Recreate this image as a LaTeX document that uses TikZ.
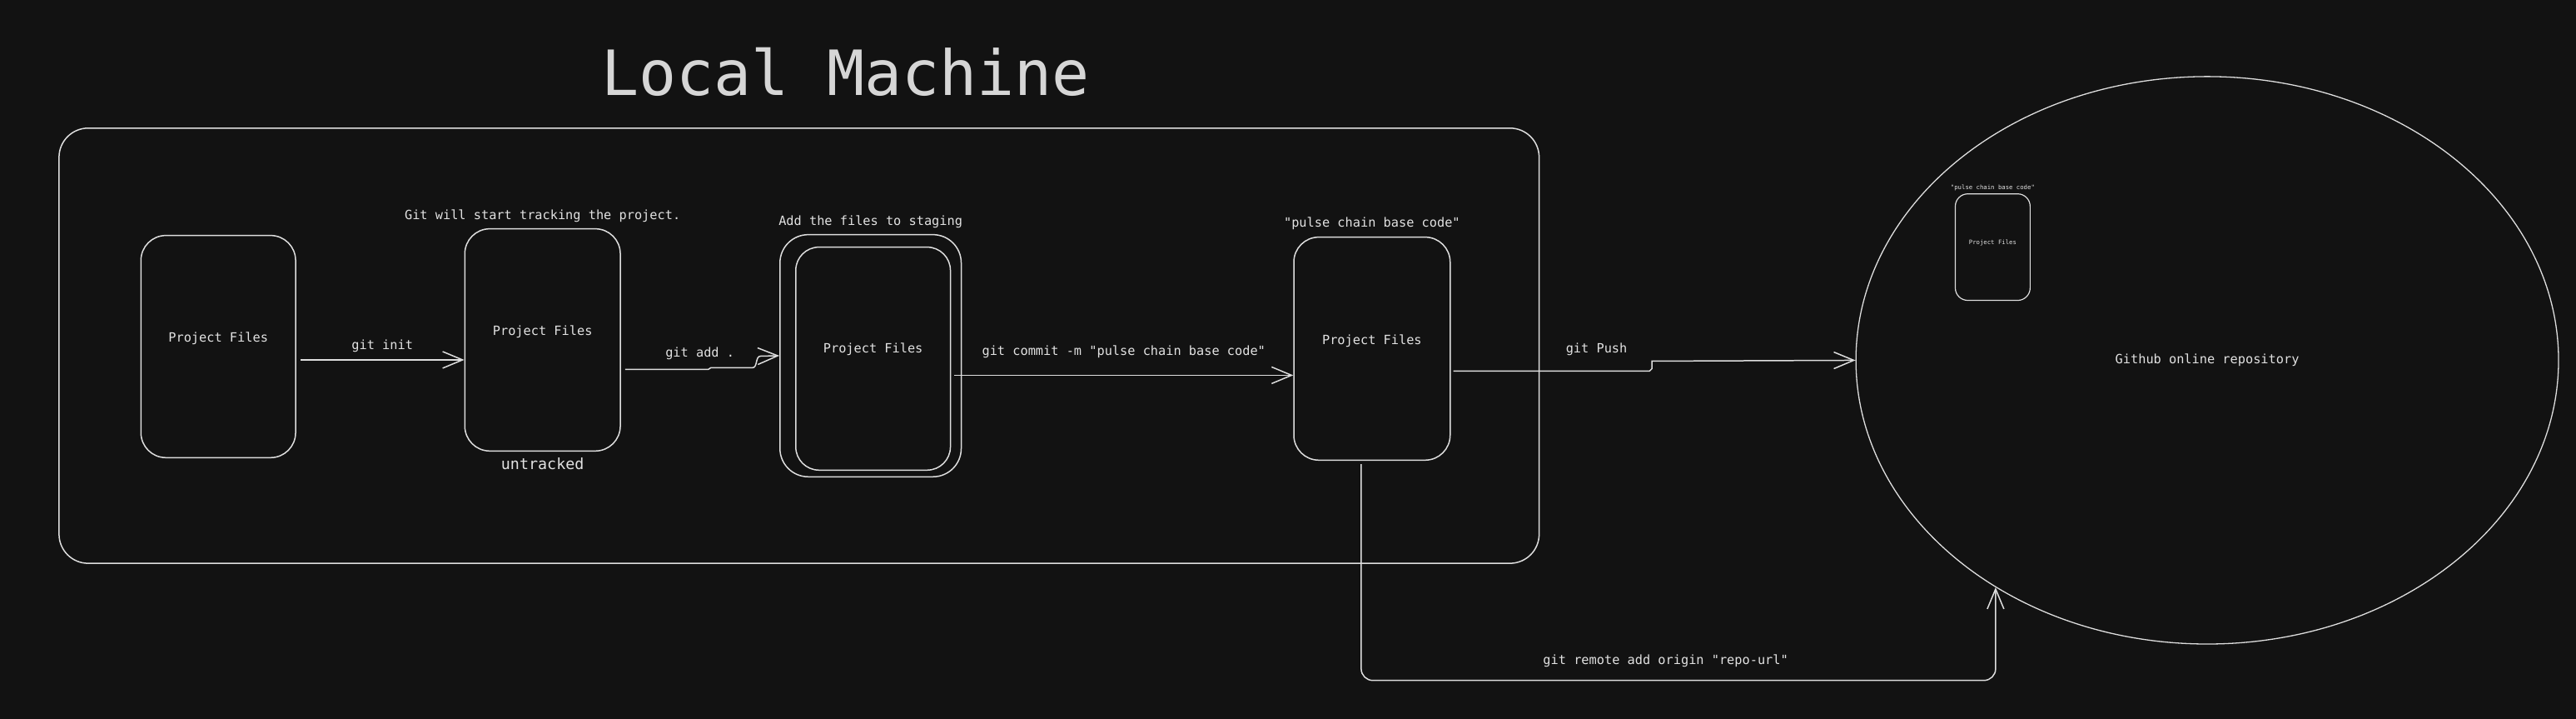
\documentclass[tikz,border=0pt]{standalone}
\usepackage{fontspec}
\setmonofont{DejaVu Sans Mono}
\usetikzlibrary{positioning,arrows.meta,shapes.geometric}
\definecolor{canvasbg}{RGB}{18,18,18}
\definecolor{chalk}{RGB}{222,222,222}
\definecolor{chalktext}{RGB}{226,226,226}
\definecolor{titlegray}{RGB}{214,214,214}

\tikzset{
    filebox/.style={draw=chalk, line width=1.5pt, rounded corners=30pt, minimum width=187pt, minimum height=267pt, inner sep=0pt, text depth=22pt, text=chalktext, font=\ttfamily\fontsize{15.3}{18}\selectfont},
    note/.style={text=chalktext, font=\ttfamily\fontsize{15.3}{18}\selectfont, inner sep=2pt},
    flow/.style={draw=chalk, line width=1.5pt, -{Straight Barb[length=24pt,width=20pt,line width=1.5pt]}}
}

\begin{document}
\begin{tikzpicture}[x=1pt, y=-1pt]
    % Canvas
    \fill[canvasbg] (-2,-2) rectangle (3096,862);
    \useasboundingbox (0,0) rectangle (3094,860);

    % Local machine frame
    \node[text=titlegray, font=\ttfamily\fontsize{75}{80}\selectfont] (title) at (1015,84) {Local Machine};
    \node[draw=chalk, line width=1.5pt, rounded corners=35pt, minimum width=1780pt, minimum height=523pt] (local) at (959,413.5) {};

    % Project file stages
    \node[filebox, minimum width=186pt] (plain) at (260.5,414.5) {Project Files};
    \node[filebox] (untracked) at (650.5,406.5) {Project Files};
    \node[filebox, minimum width=218pt, minimum height=291pt, rounded corners=34pt] (stage) at (1045,425.5) {};
    \node[filebox, minimum width=186pt, minimum height=268pt, rounded corners=28pt, text depth=25pt] (staged) at (1048,429) {Project Files};
    \node[filebox, minimum width=188pt, minimum height=268pt] (commit) at (1648,417) {Project Files};

    % Stage notes
    \node[note, above=5pt of untracked] {Git will start tracking the project.};
    \node[note, below=5pt of untracked, font=\ttfamily\fontsize{18.4}{22}\selectfont] {untracked};
    \node[note, above=5pt of stage] {Add the files to staging};
    \node[note, above=6pt of commit] {"pulse chain base code"};

    % Remote repository
    \node[ellipse, draw=chalk, line width=1.3pt, minimum width=845pt, minimum height=682pt, inner sep=0pt, text=chalktext, font=\ttfamily\fontsize{15.3}{18}\selectfont] (repo) at (2652.5,431) {Github online repository};
    \node[filebox, minimum width=90pt, minimum height=128pt, rounded corners=15pt, line width=1.2pt, text depth=12pt, font=\ttfamily\fontsize{7.3}{9}\selectfont] (pushed) at (2394.5,295) {Project Files};
    \node[note, above=1pt of pushed, font=\ttfamily\fontsize{7.3}{9}\selectfont] {"pulse chain base code"};

    % Commands
    \draw[flow] ([xshift=5pt,yshift=-16pt]plain.east) -- ([yshift=-16pt]plain.east -| untracked.west)
        node[note, above=6pt, midway] {git init};
    \draw[flow] ([xshift=5pt,yshift=-35.5pt]untracked.east) -- ++(100,0) node[note, above=9pt, pos=0.9] {git add .}
        -- ++(3,-2) -- ++(50,0) to[out=0,in=180] ++(10,-14) -- (stage.west);
    \draw[flow] ([xshift=4pt,yshift=-20pt]staged.east) -- ([yshift=-20pt]staged.east -| commit.west)
        node[note, above=18pt, midway] {git commit -m "pulse chain base code"};
    \draw[flow] ([xshift=3pt,yshift=-27pt]commit.east) -- ++(236,0) node[note, above=16pt, pos=0.73] {git Push}
        -- ++(3,-3) -- ++(0,-9) -- ++(3,0) -- (repo.west);
    \draw[flow, rounded corners=14pt] ([xshift=-13pt,yshift=-4pt]commit.south) -- ++(0,260) -| (repo.227)
        node[note, above=13pt, pos=0.24] {git remote add origin "repo-url"};
\end{tikzpicture}
\end{document}
